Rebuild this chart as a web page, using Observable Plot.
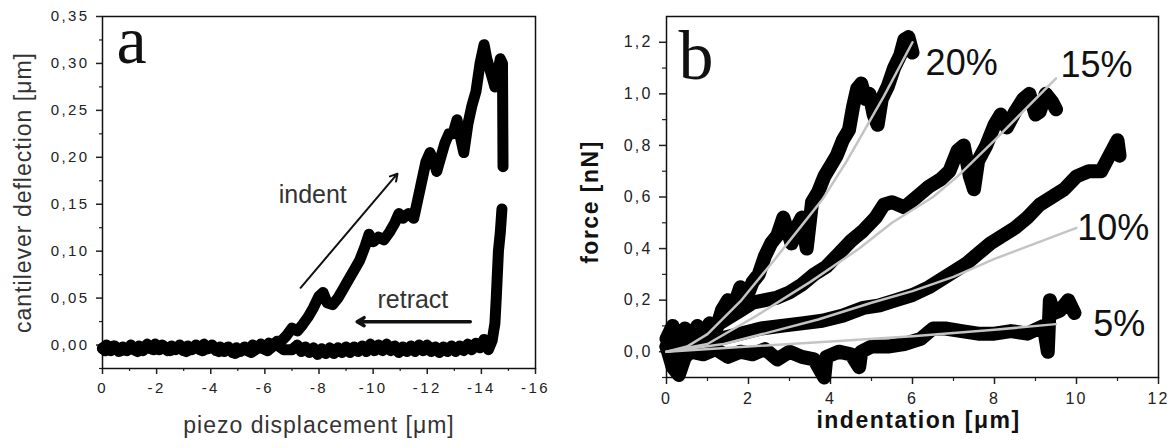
<!DOCTYPE html>
<html><head><meta charset="utf-8">
<script src="https://cdn.jsdelivr.net/npm/d3@7"></script>
<script src="https://cdn.jsdelivr.net/npm/@observablehq/plot@0.6"></script>
<style>
body{margin:0;background:#fff;}
#wrap{display:flex;width:1171px;height:448px;overflow:hidden;}
svg{display:block;}
#pa g[aria-label$="tick label"]{letter-spacing:2.4px;}
#pb g[aria-label$="tick label"]{letter-spacing:2.2px;}
</style></head><body><div id="wrap"></div>
<script>
// ---------- Panel a: cantilever deflection vs piezo displacement ----------
const approach = [[0,-0.004],[-0.15,0.0],[-0.3,-0.006],[-0.45,-0.001],[-0.6,-0.007],[-0.75,-0.002],[-0.9,-0.006],[-1.05,0.0],[-1.2,-0.005],[-1.35,-0.001],[-1.5,-0.006],[-1.65,0.001],[-1.8,-0.004],[-1.95,0.001],[-2.1,-0.005],[-2.25,-0.001],[-2.4,-0.006],[-2.55,-0.001],[-2.7,-0.005],[-2.85,0.0],[-3.0,-0.006],[-3.15,-0.001],[-3.3,-0.005],[-3.45,0.0],[-3.6,-0.005],[-3.75,0.001],[-3.9,-0.004],[-4.05,0.0],[-4.2,-0.006],[-4.35,-0.002],[-4.5,-0.007],[-4.65,-0.002],[-4.8,-0.008],[-4.95,-0.003],[-5.1,-0.007],[-5.25,-0.002],[-5.4,-0.006],[-5.55,0.0],[-5.7,-0.004],[-5.85,0.001],[-6.0,-0.003],[-6.15,0.002],[-6.3,0.0],[-6.45,0.004],[-6.6,0.004],[-6.8,0.01],[-7.0,0.018],[-7.2,0.015],[-7.4,0.022],[-7.6,0.03],[-7.8,0.04],[-8.0,0.052],[-8.15,0.056],[-8.3,0.045],[-8.5,0.043],[-8.7,0.05],[-8.9,0.06],[-9.1,0.07],[-9.3,0.08],[-9.5,0.09],[-9.7,0.105],[-9.85,0.118],[-10.0,0.11],[-10.2,0.115],[-10.4,0.112],[-10.6,0.12],[-10.8,0.13],[-10.95,0.14],[-11.1,0.135],[-11.3,0.14],[-11.5,0.135],[-11.65,0.155],[-11.8,0.175],[-11.95,0.195],[-12.1,0.205],[-12.25,0.195],[-12.35,0.185],[-12.5,0.2],[-12.65,0.215],[-12.8,0.225],[-12.95,0.225],[-13.1,0.24],[-13.2,0.225],[-13.35,0.205],[-13.5,0.235],[-13.65,0.255],[-13.8,0.27],[-13.95,0.3],[-14.1,0.32],[-14.2,0.305],[-14.35,0.29],[-14.5,0.275],[-14.6,0.29],[-14.7,0.305],[-14.78,0.3],[-14.8,0.19]];
const retract = [[-14.76,0.145],[-14.7,0.12],[-14.63,0.1],[-14.55,0.05],[-14.5,0.023],[-14.4,0.005],[-14.26,-0.005],[-14.1,0.006],[-13.95,-0.003],[-13.8,0.002],[-13.65,-0.005],[-13.5,0.001],[-13.35,-0.006],[-13.2,-0.001],[-13.05,-0.007],[-12.9,-0.001],[-12.75,-0.007],[-12.6,-0.002],[-12.45,-0.008],[-12.3,-0.002],[-12.15,-0.007],[-12.0,0.0],[-11.85,-0.006],[-11.7,0.0],[-11.55,-0.007],[-11.4,-0.001],[-11.25,-0.007],[-11.1,-0.002],[-10.95,-0.008],[-10.8,-0.001],[-10.65,-0.006],[-10.5,0.001],[-10.35,-0.006],[-10.2,0.0],[-10.05,-0.006],[-9.9,0.001],[-9.75,-0.007],[-9.6,-0.001],[-9.45,-0.007],[-9.3,-0.002],[-9.15,-0.008],[-9.0,-0.002],[-8.85,-0.008],[-8.7,-0.003],[-8.55,-0.009],[-8.4,-0.003],[-8.25,-0.009],[-8.1,-0.004],[-7.95,-0.010],[-7.8,-0.003],[-7.65,-0.008],[-7.5,-0.002],[-7.35,-0.007],[-7.2,0.0],[-7.0,-0.005],[-6.7,-0.005],[-6.4,0.001],[-6.1,-0.006],[-5.8,-0.002],[-5.5,-0.008],[-5.2,-0.004],[-4.9,-0.009],[-4.6,-0.003],[-4.3,-0.007],[-4.0,-0.001],[-3.7,-0.006],[-3.4,-0.002],[-3.1,-0.007],[-2.8,-0.003],[-2.5,-0.006],[-2.2,0.0],[-1.9,-0.005],[-1.6,-0.002],[-1.3,-0.007],[-1.0,-0.003],[-0.7,-0.006],[-0.4,-0.001],[-0.1,-0.006],[0,-0.003]];
const aArrows = [
  {x1:-7.32, y1:0.061, x2:-10.9, y2:0.1825, w:2},
  {x1:-13.59, y1:0.0249, x2:-9.41, y2:0.0249, w:3.5}
];
const aNotes = [{x:-6.51, y:0.1516, t:"indent"},{x:-10.16, y:0.0395, t:"retract"}];
const aYMajor = [0,0.05,0.10,0.15,0.20,0.25,0.30,0.35];
const aYMinor = [-0.025,0.025,0.075,0.125,0.175,0.225,0.275,0.325];
const aXMajor = [0,-2,-4,-6,-8,-10,-12,-14,-16];
const aXMinor = [-1,-3,-5,-7,-9,-11,-13,-15];

// ---------- Panel b: force vs indentation ----------
const d20 = [[0,0.05],[0.15,0.1],[0.3,-0.02],[0.45,0.09],[0.6,0.03],[0.75,0.1],[0.9,0.06],[1.05,0.11],[1.2,0.08],[1.35,0.16],[1.5,0.2],[1.65,0.18],[1.8,0.25],[1.95,0.21],[2.1,0.27],[2.25,0.3],[2.4,0.37],[2.55,0.42],[2.7,0.45],[2.85,0.52],[2.95,0.47],[3.05,0.42],[3.2,0.49],[3.3,0.52],[3.42,0.4],[3.55,0.58],[3.7,0.62],[3.85,0.68],[4.0,0.72],[4.15,0.76],[4.3,0.82],[4.45,0.86],[4.55,0.95],[4.65,1.02],[4.75,1.04],[4.85,0.98],[4.95,1.0],[5.05,0.92],[5.15,0.88],[5.25,0.98],[5.4,1.03],[5.55,1.1],[5.7,1.15],[5.8,1.21],[5.9,1.22],[6.0,1.16]];
const d15 = [[0,0.02],[0.3,0.06],[0.6,0.04],[0.9,0.08],[1.2,0.1],[1.5,0.13],[1.8,0.16],[2.1,0.19],[2.4,0.2],[2.7,0.21],[3.0,0.23],[3.3,0.26],[3.6,0.3],[3.9,0.33],[4.2,0.38],[4.5,0.43],[4.8,0.47],[5.1,0.52],[5.3,0.57],[5.5,0.58],[5.8,0.56],[6.1,0.6],[6.4,0.64],[6.7,0.67],[6.9,0.7],[7.1,0.78],[7.25,0.8],[7.4,0.68],[7.5,0.63],[7.6,0.74],[7.8,0.8],[8.0,0.88],[8.15,0.92],[8.3,0.87],[8.5,0.93],[8.7,0.98],[8.85,1.0],[9.0,0.92],[9.1,0.93],[9.25,1.0],[9.4,0.97],[9.5,0.94]];
const d10 = [[0.3,0.0],[0.8,0.03],[1.3,0.05],[1.8,0.07],[2.3,0.09],[2.8,0.1],[3.3,0.11],[3.8,0.12],[4.3,0.14],[4.8,0.17],[5.2,0.18],[5.6,0.2],[6.0,0.22],[6.4,0.25],[6.7,0.28],[7.0,0.31],[7.3,0.34],[7.6,0.38],[7.9,0.42],[8.2,0.45],[8.5,0.48],[8.8,0.52],[9.1,0.57],[9.4,0.6],[9.7,0.63],[10.0,0.68],[10.3,0.7],[10.6,0.7],[10.8,0.76],[11.0,0.82],[11.05,0.76]];
const d05 = [[0,0.02],[0.15,-0.06],[0.3,-0.09],[0.45,-0.02],[0.6,0.0],[0.9,-0.01],[1.2,0.01],[1.5,-0.02],[1.8,0.0],[2.1,-0.01],[2.4,0.01],[2.7,-0.03],[3.0,0.0],[3.3,-0.02],[3.6,-0.03],[3.85,-0.1],[3.9,-0.02],[4.2,0.0],[4.5,-0.01],[4.7,-0.06],[4.75,0.0],[5.0,0.02],[5.4,0.02],[5.8,0.03],[6.2,0.05],[6.5,0.09],[6.8,0.09],[7.2,0.08],[7.6,0.07],[8.0,0.07],[8.4,0.08],[8.8,0.07],[9.2,0.1],[9.3,0.0],[9.35,0.2],[9.45,0.15],[9.6,0.16],[9.8,0.2],[9.95,0.15]];
const f20 = [[0,0],[0.5,0.02],[1,0.068],[1.8,0.195],[2.6,0.35],[3.3,0.49],[3.8,0.59],[4.4,0.74],[5.3,0.99],[6.0,1.2]];
const f15 = [[0,0],[1,0.03],[2.2,0.14],[3.5,0.27],[4.7,0.4],[5.5,0.5],[6.5,0.6],[7.1,0.68],[8.0,0.82],[9.5,1.06]];
const f10 = [[0,0],[1.4,0.03],[2.5,0.075],[3.7,0.125],[5.0,0.19],[6.0,0.235],[7.0,0.29],[8.0,0.36],[9.0,0.42],[10.0,0.48]];
const f05 = [[0,0],[2,0.02],[4,0.04],[6,0.06],[8,0.085],[9.5,0.107]];
const bNotes = [{x:6.32,y:1.075,t:"20%"},{x:9.61,y:1.067,t:"15%"},{x:10.02,y:0.432,t:"10%"},{x:10.41,y:0.061,t:"5%"}];
const bYMajor = [0,0.2,0.4,0.6,0.8,1.0,1.2];
const bYMinor = [-0.1,0.1,0.3,0.5,0.7,0.9,1.1];
const bXMajor = [0,2,4,6,8,10,12];
const bXMinor = [1,3,5,7,9,11];

const sans = "'Liberation Sans', Arial, Helvetica, sans-serif";
const serif = "'Liberation Serif', 'Times New Roman', serif";
const c2 = d => d.toFixed(2).replace(".", ",");
const c1 = d => d.toFixed(1).replace(".", ",");
const blank = () => "";

const plotA = Plot.plot({
  width: 580, height: 448,
  marginLeft: 102, marginRight: 45, marginTop: 16, marginBottom: 80,
  x: {domain: [0, -16]},
  y: {domain: [-0.025, 0.35]},
  style: {fontFamily: sans, background: "white", color: "#222", overflow: "visible"},
  marks: [
    Plot.axisY({ticks: aYMajor, tickSize: 6, tickPadding: 7, tickFormat: c2, fontSize: 15, label: null, strokeWidth: 1.5}),
    Plot.axisY({ticks: aYMinor, tickSize: 3, tickFormat: blank, label: null, strokeWidth: 1.2}),
    Plot.axisX({ticks: aXMajor, tickSize: 6, tickPadding: 8, tickFormat: d => String(d), fontSize: 15, label: null, strokeWidth: 1.5}),
    Plot.axisX({ticks: aXMinor, tickSize: 3, tickFormat: blank, label: null, strokeWidth: 1.2}),
    Plot.frame({stroke: "#111", strokeWidth: 1.5}),
    Plot.line(retract, {x: d => d[0], y: d => d[1], stroke: "#000", strokeWidth: 11, strokeLinejoin: "round"}),
    Plot.line(approach, {x: d => d[0], y: d => d[1], stroke: "#000", strokeWidth: 11, strokeLinejoin: "round"}),
    Plot.arrow(aArrows, {x1: "x1", y1: "y1", x2: "x2", y2: "y2", strokeWidth: d => d.w, headLength: 12, stroke: "#111"}),
    Plot.text(aNotes, {x: "x", y: "y", text: "t", textAnchor: "start", lineAnchor: "bottom", fontSize: 25, fill: "#333"}),
    Plot.text(["a"], {frameAnchor: "top-left", text: d => d, dx: 14, dy: 46, textAnchor: "start", lineAnchor: "bottom", fontSize: 68, fontFamily: serif, fill: "#111"}),
    Plot.text(["piezo displacement [μm]"], {frameAnchor: "bottom", text: d => d, dy: 64, textAnchor: "middle", lineAnchor: "bottom", fontSize: 23, fill: "#333"}),
    Plot.text(["cantilever deflection [μm]"], {frameAnchor: "left", text: d => d, dx: -72, rotate: -90, textAnchor: "middle", lineAnchor: "bottom", fontSize: 23, fill: "#333"})
  ]
});
plotA.id = "pa";

const line = (data, stroke, w) => Plot.line(data, {x: d => d[0], y: d => d[1], stroke, strokeWidth: w, strokeLinejoin: "round"});
const plotB = Plot.plot({
  width: 591, height: 448,
  marginLeft: 86, marginRight: 13, marginTop: 16, marginBottom: 71,
  x: {domain: [0, 12]},
  y: {domain: [-0.1, 1.3]},
  style: {fontFamily: sans, background: "white", color: "#222", overflow: "visible"},
  marks: [
    Plot.axisY({ticks: bYMajor, tickSize: 7, tickPadding: 7, tickFormat: c1, fontSize: 16, label: null, strokeWidth: 1.5}),
    Plot.axisY({ticks: bYMinor, tickSize: 4, tickFormat: blank, label: null, strokeWidth: 1.2}),
    Plot.axisX({ticks: bXMajor, tickSize: 7, tickPadding: 8, tickFormat: d => String(d), fontSize: 16, label: null, strokeWidth: 1.5}),
    Plot.axisX({ticks: bXMinor, tickSize: 4, tickFormat: blank, label: null, strokeWidth: 1.2}),
    Plot.frame({stroke: "#111", strokeWidth: 1.5}),
    line(d05, "#000", 14), line(d10, "#000", 14), line(d15, "#000", 14), line(d20, "#000", 14),
    line(f05, "#c4c4c4", 2.5), line(f10, "#c4c4c4", 2.5), line(f15, "#c4c4c4", 2.5), line(f20, "#c4c4c4", 2.5),
    Plot.text(bNotes, {x: "x", y: "y", text: "t", textAnchor: "start", lineAnchor: "bottom", fontSize: 36, fill: "#111"}),
    Plot.text(["b"], {frameAnchor: "top-left", text: d => d, dx: 12, dy: 62, textAnchor: "start", lineAnchor: "bottom", fontSize: 70, fontFamily: serif, fill: "#111"}),
    Plot.text(["indentation [μm]"], {frameAnchor: "bottom", text: d => d, dx: 6, dy: 50, textAnchor: "middle", lineAnchor: "bottom", fontSize: 23, fontWeight: "bold", fill: "#111"}),
    Plot.text(["force [nN]"], {frameAnchor: "left", text: d => d, dx: -69, dy: 5, rotate: -90, textAnchor: "middle", lineAnchor: "bottom", fontSize: 23, fontWeight: "bold", fill: "#111"})
  ]
});
plotB.id = "pb";

const wrap = document.getElementById("wrap");
wrap.appendChild(plotA);
wrap.appendChild(plotB);
d3.select(plotA).selectAll("text").filter(function(){return this.textContent.indexOf("μm")>=0;}).style("letter-spacing","1px");
d3.select(plotB).selectAll("text").filter(function(){return this.textContent.indexOf("[")>=0;}).style("letter-spacing","1.5px");
</script></body></html>
